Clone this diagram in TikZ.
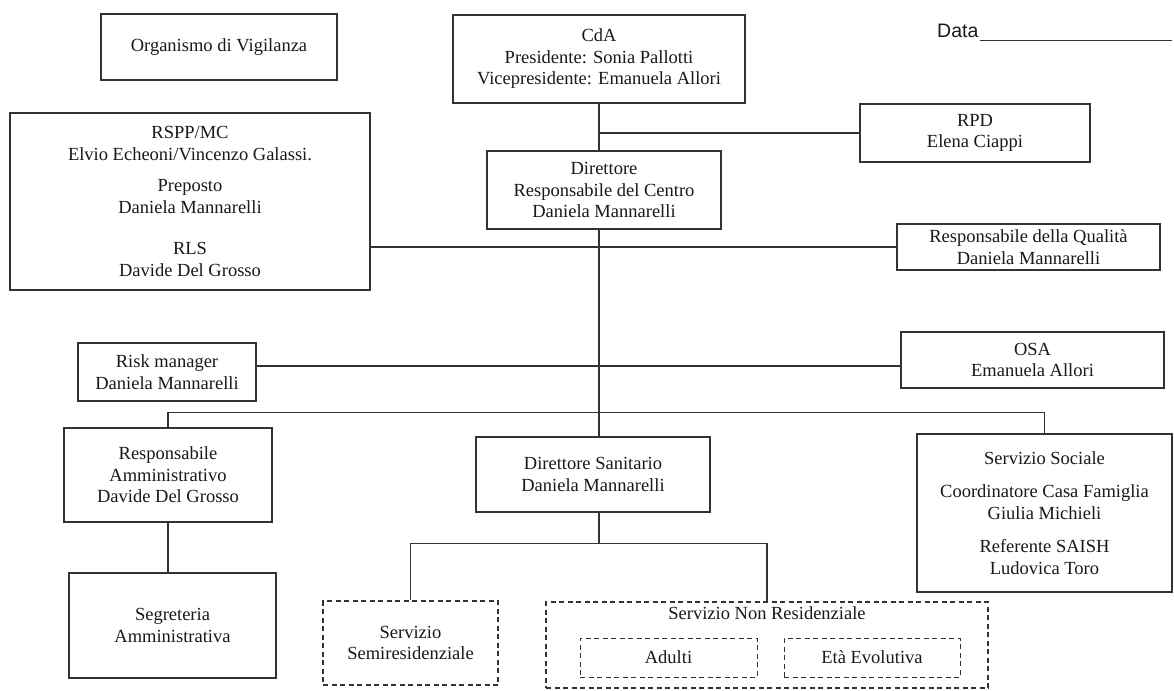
\documentclass[tikz,border=0pt]{standalone}
\usepackage{fontspec}
\setmainfont{Liberation Serif}
\newfontfamily\datafont{Liberation Sans}
\usetikzlibrary{positioning}
\newcommand{\orgfont}{\fontsize{18.5}{21.5}\selectfont}
\tikzset{org box/.style={rectangle,draw=black!80,line width=1.1pt,fill=white,align=center,inner sep=0pt,text=black!90,font=\orgfont},
         dash box/.style={org box,dash pattern=on 5pt off 3.5pt},
         plain text/.style={rectangle,draw=none,fill=none,align=center,inner sep=0pt,text=black!90,font=\orgfont},
         link/.style={draw=black!80,line width=1.1pt},
}

\begin{document}
\begin{tikzpicture}[x=1pt,y=-1pt]
\path[use as bounding box,fill=white] (0,0) rectangle (1174,690);
% top row
\node [org box, minimum width=236pt, minimum height=66pt] (ov) at (219,47) {Organismo di Vigilanza};
\node [org box, minimum width=292pt, minimum height=88pt] (cda) at (599,59) {CdA\\Presidente: Sonia Pallotti\\Vicepresidente: Emanuela Allori};
\node [plain text, anchor=base west, font=\datafont\fontsize{19.5}{22}\selectfont] (data) at (937,38) {Data};
\coordinate (data end) at (1172,40);
\draw[link, line width=0.9pt] ([shift={(1,2)}]data.base east) -- (data end);
% staff boxes
\node [org box, minimum width=230pt, minimum height=58pt] (rpd) at (975,133) {RPD\\Elena Ciappi};
\node [org box, minimum width=234pt, minimum height=78pt] (dir) at (604,190) {Direttore\\Responsabile del Centro\\Daniela Mannarelli};
\node [org box, minimum width=360pt, minimum height=177pt] (rspp) at (190,201.5) {RSPP/MC\\Elvio Echeoni/Vincenzo Galassi.\\[10pt]Preposto\\Daniela Mannarelli\\[20pt]RLS\\Davide Del Grosso};
\node [org box, minimum width=263pt, minimum height=46pt] (qual) at (1028.5,247) {Responsabile della Qualità\\Daniela Mannarelli};
\node [org box, minimum width=178pt, minimum height=58pt] (risk) at (167,372) {Risk manager\\Daniela Mannarelli};
\node [org box, minimum width=263pt, minimum height=56pt] (osa) at (1032.5,360) {OSA\\Emanuela Allori};
% lower level
\node [org box, minimum width=208pt, minimum height=94pt] (ramm) at (168,475) {Responsabile\\Amministrativo\\Davide Del Grosso};
\node [org box, minimum width=234pt, minimum height=75pt] (dirsan) at (593,474.5) {Direttore Sanitario\\Daniela Mannarelli};
\node [org box, minimum width=255pt, minimum height=158pt] (ss) at (1044.5,513) {Servizio Sociale\\[12pt]Coordinatore Casa Famiglia\\Giulia Michieli\\[12pt]Referente SAISH\\Ludovica Toro};
\node [org box, minimum width=207pt, minimum height=105pt] (seg) at (172.5,625.5) {Segreteria\\Amministrativa};
\node [dash box, minimum width=175pt, minimum height=84pt] (semi) at (410.5,643) {Servizio\\Semiresidenziale};
\node [dash box, minimum width=442pt, minimum height=86pt] (nonres) at (767,645) {};
\node [plain text, below=5pt of nonres.north] (nr title) {Servizio Non Residenziale};
\node [dash box, line width=1pt, minimum width=177pt, minimum height=39pt] (adulti) at (668.5,657.5) {Adulti};
\node [dash box, line width=1pt, minimum width=176pt, minimum height=39pt] (eta) at (872,657.5) {Età Evolutiva};
% connectors
\draw[link] (cda.south) -- (cda.south |- dir.north);
\draw[link] (cda.south |- rpd.west) -- (rpd.west);
\draw[link] (cda.south |- dir.south) -- (cda.south |- dirsan.north);
\draw[link] (rspp.east |- qual.west) -- (qual.west);
\draw[link] ([yshift=6pt]risk.east) -- ([yshift=6pt]risk.east -| osa.west);
\draw[link] (ramm.north) -- ++(0,-15) -| (ss.north);
\draw[link] (ramm.south) -- (ramm.south |- seg.north);
\draw[link] (cda.south |- dirsan.south) -- ++(0,31) coordinate (low split);
\draw[link] (semi.north) |- (low split) -| (nonres.north);
\end{tikzpicture}
\end{document}
